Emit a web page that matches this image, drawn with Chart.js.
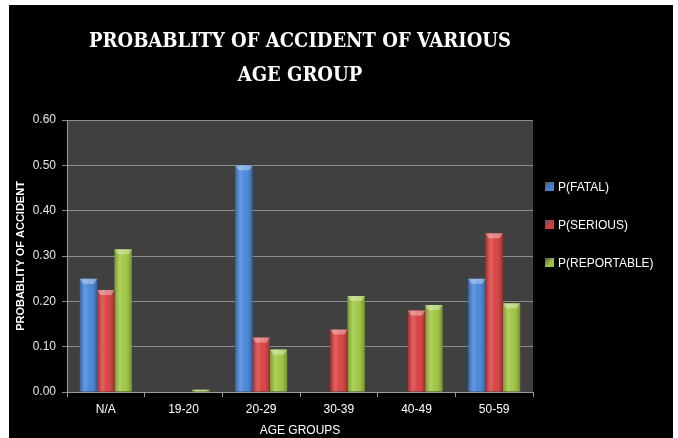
<!DOCTYPE html>
<html>
<head>
<meta charset="utf-8">
<script src="https://cdn.jsdelivr.net/npm/chart.js@4.4.0/dist/chart.umd.min.js"></script>
<style>
  html, body { margin: 0; padding: 0; background: #ffffff; }
  #wrap { position: relative; width: 678px; height: 438px; }
  canvas { display: block; }
  #legend { position: absolute; left: 545px; top: 180px; font-family: 'Liberation Sans Narrow', 'Liberation Sans', sans-serif; font-size: 12px; color: #ffffff; }
  #legend .item { position: absolute; left: 0; white-space: nowrap; height: 14px; line-height: 14px; }
  #legend .box { position: absolute; left: 0; top: 2px; width: 9px; height: 9px; }
  #legend .txt { position: absolute; left: 13px; top: 0; }
</style>
</head>
<body>
<div id="wrap">
  <canvas id="c" width="678" height="438"></canvas>
  <div id="legend"></div>
</div>
<script>
const categories = ['N/A', '19-20', '20-29', '30-39', '40-49', '50-59'];
const fatal = [0.25, 0, 0.50, 0, 0, 0.25];
const serious = [0.225, 0, 0.12, 0.138, 0.18, 0.35];
const reportable = [0.315, 0.005, 0.094, 0.212, 0.192, 0.196];
const seriesNames = ['P(FATAL)', 'P(SERIOUS)', 'P(REPORTABLE)'];
const titleLines = ['PROBABLITY OF ACCIDENT OF VARIOUS', 'AGE GROUP'];
const yTitle = 'PROBABLITY OF ACCIDENT';
const xTitle = 'AGE GROUPS';

const colors = ['#4282d8', '#d93a3a', '#9cc53a'];
const font = "'Liberation Sans Narrow', 'Liberation Sans', sans-serif";

const bgPlugin = {
  id: 'bg',
  beforeDraw(chart) {
    const ctx = chart.ctx;
    const a = chart.chartArea;
    ctx.save();
    ctx.fillStyle = '#ffffff';
    ctx.fillRect(0, 0, chart.width, chart.height);
    ctx.fillStyle = '#000000';
    ctx.fillRect(9, 5, 664, 433);
    ctx.fillStyle = '#404040';
    ctx.fillRect(a.left, a.top, a.right - a.left, a.bottom - a.top);
    ctx.restore();
  }
};

const shadePlugin = {
  id: 'shade',
  afterDatasetsDraw(chart) {
    const ctx = chart.ctx;
    ctx.save();
    chart.data.datasets.forEach((ds, i) => {
      const meta = chart.getDatasetMeta(i);
      meta.data.forEach(el => {
        const p = el.getProps(['x', 'y', 'base', 'width'], true);
        const h = p.base - p.y;
        if (h < 0.5) return;
        const l = p.x - p.width / 2;
        const g = ctx.createLinearGradient(l, 0, l + p.width, 0);
        g.addColorStop(0, 'rgba(0,0,0,0.22)');
        g.addColorStop(0.3, 'rgba(255,255,255,0.20)');
        g.addColorStop(0.55, 'rgba(255,255,255,0.06)');
        g.addColorStop(1, 'rgba(0,0,0,0.28)');
        ctx.fillStyle = g;
        ctx.fillRect(l, p.y, p.width, h);
        const bev = Math.min(5, h);
        ctx.beginPath();
        ctx.moveTo(l, p.y);
        ctx.lineTo(l + p.width, p.y);
        ctx.lineTo(l + p.width - 3, p.y + bev);
        ctx.lineTo(l + 3, p.y + bev);
        ctx.closePath();
        ctx.fillStyle = 'rgba(255,255,255,0.35)';
        ctx.fill();
      });
    });
    ctx.restore();
  }
};

const chart = new Chart(document.getElementById('c'), {
  type: 'bar',
  data: {
    labels: categories,
    datasets: [
      { label: seriesNames[0], data: fatal, backgroundColor: colors[0] },
      { label: seriesNames[1], data: serious, backgroundColor: colors[1] },
      { label: seriesNames[2], data: reportable, backgroundColor: colors[2] }
    ]
  },
  options: {
    responsive: false,
    animation: false,
    devicePixelRatio: 1,
    layout: { padding: { left: 10, right: 145, top: 5, bottom: 0 } },
    datasets: { bar: { categoryPercentage: 0.67, barPercentage: 1.0 } },
    plugins: {
      legend: { display: false },
      tooltip: { enabled: false },
      title: {
        display: true,
        fullSize: false,
        text: titleLines,
        color: '#ffffff',
        font: { family: "'DejaVu Serif Condensed', 'DejaVu Serif', serif", size: 20, weight: 'bold', lineHeight: 1.7 },
        padding: { top: 20, bottom: 27 }
      }
    },
    scales: {
      x: {
        grid: { display: true, drawOnChartArea: false, drawTicks: true, tickLength: 5, color: '#9a9a9a', offset: true },
        border: { display: true, color: '#9a9a9a' },
        ticks: { color: '#ffffff', font: { family: font, size: 12 }, padding: 5 },
        title: { display: true, text: xTitle, color: '#ffffff', font: { family: font, size: 12 }, padding: { top: 0, bottom: 0 } },
        afterFit(s) { s.height = 46; }
      },
      y: {
        min: 0, max: 0.6,
        grid: { color: '#8c8c8c', tickLength: 5, drawTicks: true },
        border: { display: true, color: '#9a9a9a' },
        ticks: { stepSize: 0.1, color: '#e6e6e6', font: { family: font, size: 12 }, padding: 6, callback: v => Number(v).toFixed(2) },
        title: { display: true, text: yTitle, color: '#ffffff', font: { family: font, size: 11, weight: 'bold' }, padding: { top: 4, bottom: 0 } },
        afterFit(s) { s.width = 57; }
      }
    }
  },
  plugins: [bgPlugin, shadePlugin]
});

// HTML legend built from series
const legendEl = document.getElementById('legend');
const legendTops = [0, 38, 76];
seriesNames.forEach((name, i) => {
  const item = document.createElement('div');
  item.className = 'item';
  item.style.top = legendTops[i] + 'px';
  const box = document.createElement('span');
  box.className = 'box';
  box.style.background = 'linear-gradient(135deg, rgba(255,255,255,0.35), ' + colors[i] + ' 60%)';
  const txt = document.createElement('span');
  txt.className = 'txt';
  txt.textContent = name;
  item.appendChild(box);
  item.appendChild(txt);
  legendEl.appendChild(item);
});
</script>
</body>
</html>
